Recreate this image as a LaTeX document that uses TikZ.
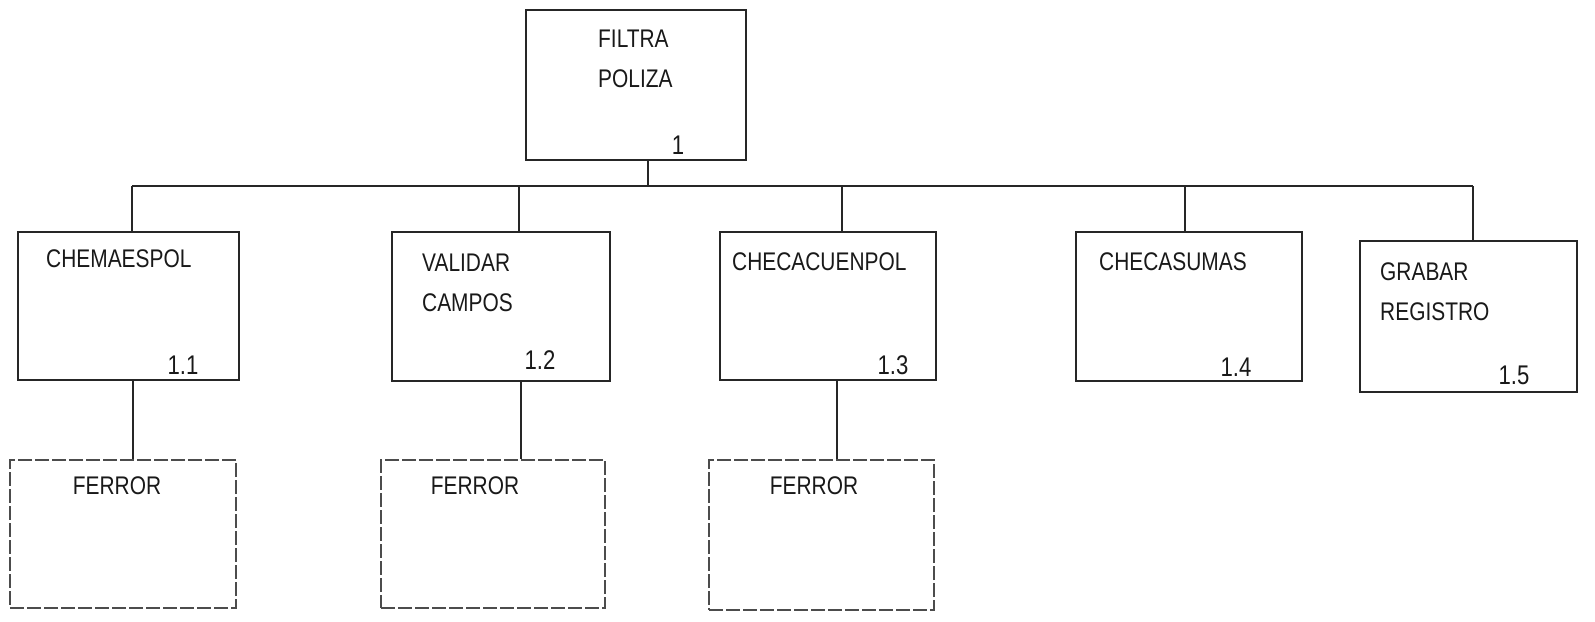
\documentclass[tikz,border=0pt]{standalone}
\usepackage{fontspec}
\setmainfont{Liberation Sans}[FakeStretch=0.82]
\begin{document}
\begin{tikzpicture}[x=1pt,y=-1pt,
  boxshape/.style={draw=black!85,line width=1.3pt,inner sep=0pt,rectangle},
  errbox/.style={draw=black!70,line width=1.1pt,inner sep=0pt,rectangle,dash pattern=on 14pt off 3pt},
  label/.style={inner sep=0pt,align=left,text=black!90,font=\fontsize{25.5}{40}\selectfont},
  num/.style={inner sep=0pt,text=black!90,font=\fontsize{27}{30}\selectfont},
  link/.style={draw=black!85,line width=1.5pt}]
\useasboundingbox (0,0) rectangle (1595,621);
% boxes
\node[boxshape,minimum width=220pt,minimum height=150pt] (top) at (636,85) {};
\node[boxshape,minimum width=221pt,minimum height=148pt] (b1) at (128.5,306) {};
\node[boxshape,minimum width=218pt,minimum height=149pt] (b2) at (501,306.5) {};
\node[boxshape,minimum width=216pt,minimum height=148pt] (b3) at (828,306) {};
\node[boxshape,minimum width=226pt,minimum height=149pt] (b4) at (1189,306.5) {};
\node[boxshape,minimum width=217pt,minimum height=151pt] (b5) at (1468.5,316.5) {};
\node[errbox,minimum width=226pt,minimum height=148pt] (f1) at (123,534) {};
\node[errbox,minimum width=224pt,minimum height=148pt] (f2) at (493,534) {};
\node[errbox,minimum width=225pt,minimum height=150pt] (f3) at (821.5,535) {};
% texts
\node[label,anchor=west] (ttop) at (598,59) {FILTRA\\POLIZA};
\node[num] (ntop) at (678,145) {1};
\node[label,anchor=west] (t1) at (46,259) {CHEMAESPOL};
\node[num] (n1) at (183,365) {1.1};
\node[label,anchor=west] (t2) at (422,282.5) {VALIDAR\\CAMPOS};
\node[num] (n2) at (540,360) {1.2};
\node[label,anchor=west] (t3) at (732,262) {CHECACUENPOL};
\node[num] (n3) at (893,365) {1.3};
\node[label,anchor=west] (t4) at (1099,262) {CHECASUMAS};
\node[num] (n4) at (1236,367) {1.4};
\node[label,anchor=west] (t5) at (1380,292) {GRABAR\\REGISTRO};
\node[num] (n5) at (1514,375) {1.5};
\node[label] (e1) at (117,486) {FERROR};
\node[label] (e2) at (475,486) {FERROR};
\node[label] (e3) at (814,486) {FERROR};
% connector coordinates
\coordinate (tj) at (648,186);
\coordinate (d1) at (132,186);
\coordinate (d2) at (519,186);
\coordinate (d3) at (842,186);
\coordinate (d4) at (1185,186);
\coordinate (d5) at (1473,186);
\coordinate (c1) at (133,400);
\coordinate (c2) at (521,400);
\coordinate (c3) at (837,400);
% connectors
\draw[link] (tj |- top.south) -- (tj);
\draw[link] (d1) -- (d5);
\draw[link] (d1) -- (d1 |- b1.north);
\draw[link] (d2) -- (d2 |- b2.north);
\draw[link] (d3) -- (d3 |- b3.north);
\draw[link] (d4) -- (d4 |- b4.north);
\draw[link] (d5) -- (d5 |- b5.north);
\draw[link] (c1 |- b1.south) -- (c1 |- f1.north);
\draw[link] (c2 |- b2.south) -- (c2 |- f2.north);
\draw[link] (c3 |- b3.south) -- (c3 |- f3.north);
\end{tikzpicture}
\end{document}
